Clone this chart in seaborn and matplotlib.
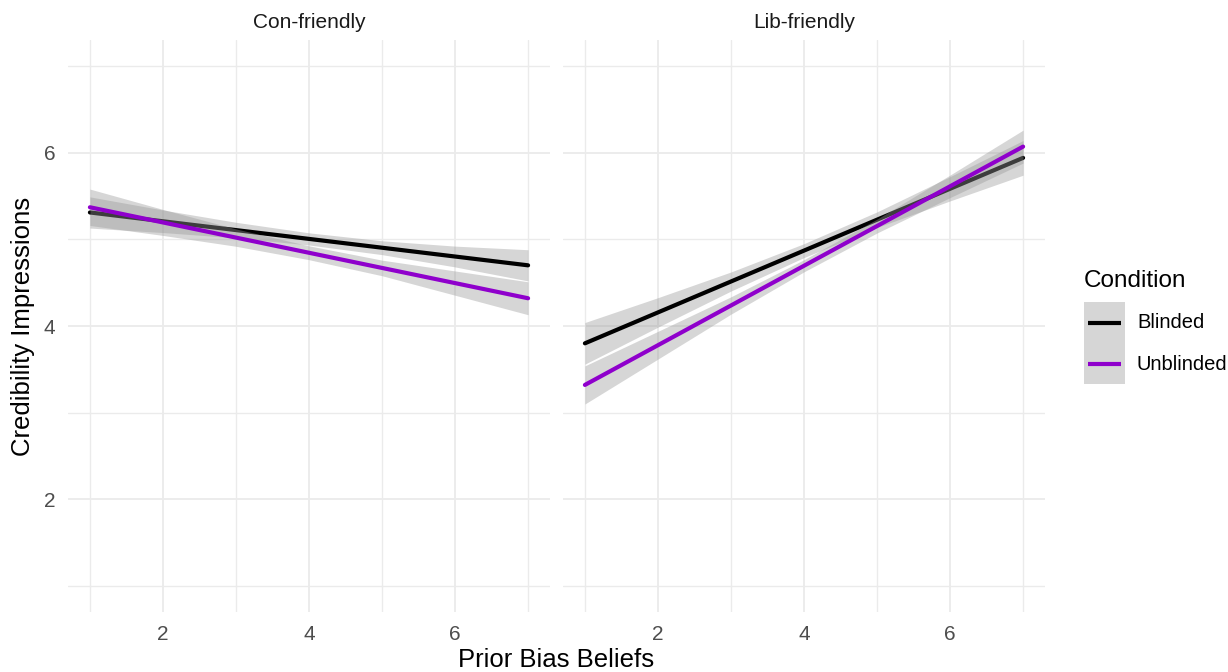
import numpy as np
import pandas as pd
import seaborn as sns
import matplotlib.pyplot as plt
from matplotlib.patches import Rectangle
from matplotlib.lines import Line2D
from matplotlib.ticker import MultipleLocator

# Facets, groups and the x positions where the fitted bands are evaluated
panels = ["Con-friendly", "Lib-friendly"]
conditions = ["Blinded", "Unblinded"]
x_points = [1, 2, 3, 4, 5, 6, 7]

# Fitted credibility at x = 1 and x = 7 (straight-line fits)
con_blinded_ends = [5.31, 4.70]
con_unblinded_ends = [5.37, 4.32]
lib_blinded_ends = [3.80, 5.94]
lib_unblinded_ends = [3.32, 6.07]

# Half-width of the 95% confidence band at each x point
con_blinded_hw = [0.18, 0.13, 0.09, 0.07, 0.08, 0.12, 0.18]
con_unblinded_hw = [0.21, 0.15, 0.10, 0.08, 0.09, 0.14, 0.19]
lib_blinded_hw = [0.24, 0.17, 0.11, 0.08, 0.09, 0.14, 0.20]
lib_unblinded_hw = [0.22, 0.16, 0.10, 0.07, 0.08, 0.13, 0.19]

series = {
    ("Con-friendly", "Blinded"): (con_blinded_ends, con_blinded_hw),
    ("Con-friendly", "Unblinded"): (con_unblinded_ends, con_unblinded_hw),
    ("Lib-friendly", "Blinded"): (lib_blinded_ends, lib_blinded_hw),
    ("Lib-friendly", "Unblinded"): (lib_unblinded_ends, lib_unblinded_hw),
}

rows = []
for (panel, cond), (ends, hw) in series.items():
    x = np.array(x_points, dtype=float)
    fit = ends[0] + (ends[1] - ends[0]) * (x - x[0]) / (x[-1] - x[0])
    for xi, fi, hi in zip(x, fit, hw):
        rows.append(dict(panel=panel, condition=cond, x=xi, fit=fi,
                         lo=fi - hi, hi=fi + hi))
df = pd.DataFrame(rows)

palette = {"Blinded": "#000000", "Unblinded": "#8F00CC"}
band_color = "#999999"
band_alpha = 0.4
line_w = 3.0

sns.set_theme(style="white")
plt.rcParams["font.family"] = ["Liberation Sans", "DejaVu Sans"]

W, H = 1228, 672
g = sns.FacetGrid(df, col="panel", col_order=panels, sharex=True, sharey=True,
                  height=6.72, aspect=1.0)
fig = g.figure


def draw_smooth(data, **kws):
    ax = plt.gca()
    z = 2
    for cond in conditions:
        d = data[data["condition"] == cond]
        ax.fill_between(d["x"], d["lo"], d["hi"], color=band_color,
                        alpha=band_alpha, linewidth=0, zorder=z)
        sns.lineplot(data=d, x="x", y="fit", color=palette[cond],
                     linewidth=line_w, ax=ax, legend=False, zorder=z + 1)
        z += 2


g.map_dataframe(draw_smooth)

fig.set_size_inches(W / 100, H / 100)
fig.subplots_adjust(left=68 / W, right=1045 / W,
                    bottom=60 / H, top=1 - 40 / H, wspace=13 / 482)

for ax, title in zip(g.axes.flat, panels):
    ax.set_xlim(0.7, 7.3)
    ax.set_ylim(0.7, 7.3)
    ax.xaxis.set_major_locator(MultipleLocator(2))
    ax.xaxis.set_minor_locator(MultipleLocator(1))
    ax.yaxis.set_major_locator(MultipleLocator(2))
    ax.yaxis.set_minor_locator(MultipleLocator(1))
    ax.grid(which="major", color="#EBEBEB", linewidth=1.3)
    ax.grid(which="minor", color="#EBEBEB", linewidth=1.0)
    ax.set_axisbelow(True)
    for s in ax.spines.values():
        s.set_visible(False)
    ax.tick_params(which="both", length=0, labelsize=15, colors="#4D4D4D",
                   pad=9)
    ax.set_title(title, fontsize=15, color="#1A1A1A", pad=9)
    ax.set_xlabel("")
    ax.set_ylabel("")

g.axes.flat[1].tick_params(labelleft=False)

fig.text(556 / W, 1 - 660 / H, "Prior Bias Beliefs", ha="center",
         va="center", fontsize=18.5, color="black")
fig.text(23 / W, 1 - 326 / H, "Credibility Impressions", ha="center",
         va="center", rotation=90, fontsize=18.5, color="black")

# Legend: one shared grey key column with a line sample per condition
lg = fig.add_axes([0, 0, 1, 1], zorder=10)
lg.set_xlim(0, W)
lg.set_ylim(H, 0)
lg.axis("off")
lg.patch.set_alpha(0)
lg.text(1084, 281, "Condition", ha="left", va="center", fontsize=17.5,
        color="black")
lg.add_patch(Rectangle((1084, 302), 41, 82, facecolor=band_color,
                       alpha=band_alpha, linewidth=0))
for i, cond in enumerate(conditions):
    yc = 323 + 41 * i
    lg.add_line(Line2D([1088, 1121], [yc, yc], color=palette[cond],
                       linewidth=line_w, solid_capstyle="butt"))
    lg.text(1137, yc, cond, ha="left", va="center", fontsize=14.5,
            color="black")

fig.savefig("out.png", dpi=100, facecolor="white")
